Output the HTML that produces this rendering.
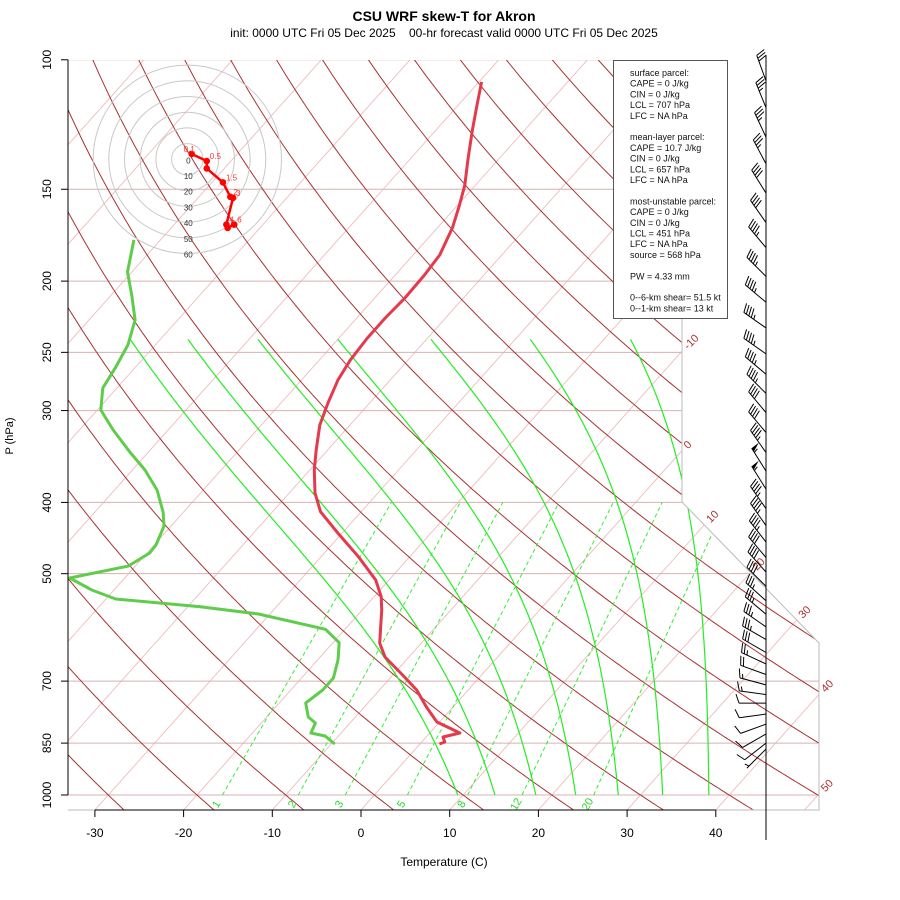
<!DOCTYPE html>
<html><head><meta charset="utf-8"><title>CSU WRF skew-T for Akron</title>
<style>
html,body{margin:0;padding:0;background:#fff;}
#wrap{position:relative;width:900px;height:900px;overflow:hidden;font-family:"Liberation Sans",Arial,sans-serif;}
svg text{font-family:"Liberation Sans",Arial,sans-serif;}
</style></head>
<body>
<div id="wrap">
<svg id="svg" width="900" height="900" viewBox="0 0 900 900" xmlns="http://www.w3.org/2000/svg">
<defs><clipPath id="plotclip"><path d="M68,60 L682,60 L682,502 L819,643 L819,810 L68,810 Z"/></clipPath></defs>
<text x="444" y="21" text-anchor="middle" font-size="14" font-weight="bold">CSU WRF skew-T for Akron</text>
<text x="444" y="37" text-anchor="middle" font-size="12" xml:space="preserve">init: 0000 UTC Fri 05 Dec 2025    00-hr forecast valid 0000 UTC Fri 05 Dec 2025</text>
<g id="grid" clip-path="url(#plotclip)"></g>
<g id="profiles"></g>
<g id="axes"></g>
<g id="hodo"></g>
<g id="barbs"></g>
<g id="info"></g>
</svg>
</div>
<script>
// ---- data ----
const P_TEMP=[107.2,115.2,124.6,136.8,148.1,157.6,169.3,184.3,196.2,210.8,224.5,239,256.1,272.5,292.9,313.9,339.4,361.3,388.4,411.8,440.2,474.1,510,537.4,560.2,621.3,649.1,686.7,719.8,759.1,795.7,823.5,833.9,847,852.4];
const TEMP=[-59.7,-57.9,-55.9,-53.4,-51.2,-49.8,-48.3,-47.0,-46.7,-46.6,-46.8,-46.8,-46.5,-45.9,-44.7,-43.4,-41.3,-39.5,-37.1,-34.6,-30.5,-25.8,-21.5,-19.2,-17.8,-14.7,-12.7,-8.9,-5.8,-3.0,-0.3,3.4,1.9,2.6,2.2];
const P_DEW=[175.8,194.3,208.9,225.9,244.3,262.6,279.5,299.5,318.8,341.6,361.3,384.8,412.3,430.6,457,468.6,488.2,506.8,526.2,541.3,554.5,567.3,595.1,620.7,655.2,693.2,719.8,749.7,783.3,798.1,823.5,831.3,852.4];
const DEWPT=[-83.0,-80.5,-77.7,-74.8,-73.1,-72.2,-71.6,-69.6,-66.2,-62.1,-58.6,-55.2,-52.3,-50.8,-49.8,-49.7,-50.8,-56.2,-52.5,-48.9,-38.6,-31.3,-22.2,-19.3,-17.7,-16.4,-16.4,-17.0,-15.3,-13.9,-13.4,-11.5,-9.6];
const P_LEVELS=[100,150,200,250,300,400,500,700,850,1000];
const T_TICKS=[-30,-20,-10,0,10,20,30,40];
const ISO_LABELS=[-10,0,10,20,30,40,50];
const MOIST_T1000=[9.4,13.6,18.2,22.7,27.5,32.5,37.7];
const MOIST_T240=[-73.4,-66.9,-59.0,-50.0,-39.5,-28.3,-17.0];
const MIX_RATIOS=[1,2,3,5,8,12,20];
const HODO_U=[2.8,12.4,12.4,22.7,27.4,29.1,24.9,25.7,29.9];
const HODO_V=[3.4,-1.1,-5.8,-14.7,-23.9,-24.5,-41.6,-43.7,-41.6];
const HODO_LABELS=["0.1","0.5","","1.5","2","3","4","5","6"];
const BARB_P=[106.8,116.2,127.4,138.5,151.8,166.5,180.1,197.1,213.7,231.6,251.2,267.7,284.3,301.9,321.4,342.2,362.6,383.7,407.8,430.1,452.9,475.4,497.4,520.3,544.3,567.7,590.7,614.5,640,663.4,685.7,708.3,730.2,750,776,801,826,850,866];
const BARB_DIR=[340,338,335,332,328,325,320,315,310,305,305,310,315,320,320,325,328,328,325,325,322,320,318,315,312,310,305,300,300,295,290,285,278,270,262,250,240,232,225];
const BARB_SPD=[30,35,35,35,40,40,45,45,45,45,45,45,45,40,40,45,55,55,45,45,45,40,40,40,35,35,35,35,30,25,20,15,15,10,10,10,10,10,5];
const INFO_LINES=["surface parcel:","CAPE = 0 J/kg","CIN = 0 J/kg","LCL = 707 hPa","LFC = NA hPa","","mean-layer parcel:","CAPE = 10.7 J/kg","CIN = 0 J/kg","LCL = 657 hPa","LFC = NA hPa","","most-unstable parcel:","CAPE = 0 J/kg","CIN = 0 J/kg","LCL = 451 hPa","LFC = NA hPa","source = 568 hPa","","PW =  4.33 mm","","0--6-km shear= 51.5 kt","0--1-km shear= 13 kt"];

// ---- axis functions ----
const NS="http://www.w3.org/2000/svg";
function yP(p){return 795-319.3*Math.log(1000/p);}
function xT(T,p){return 361+8.87*T+(810-yP(p))*0.893;}
function mk(tag,attrs,parent){const e=document.createElementNS(NS,tag);for(const k in attrs)e.setAttribute(k,attrs[k]);parent.appendChild(e);return e;}
const grid=document.getElementById('grid'),prof=document.getElementById('profiles'),axes=document.getElementById('axes'),hodo=document.getElementById('hodo'),barbs=document.getElementById('barbs'),info=document.getElementById('info');

// isotherms
for(let T=-160;T<=60;T+=10){
  const l=mk('line',{x1:xT(T,1060),y1:yP(1060),x2:xT(T,95),y2:yP(95),stroke:'#eebcbc','stroke-width':0.9},grid);
  
  
}
// pressure lines
P_LEVELS.forEach(p=>{
  const l=mk('line',{x1:68,y1:yP(p),x2:830,y2:yP(p),stroke:'#d9b0b0','stroke-width':1},grid);
  
  
});
// dry adiabats
for(let th=-50;th<=220;th+=10){
  let d='';
  for(let p=1060;p>=95;p-=5){const T=(th+273.15)*Math.pow(p/1000,0.2857)-273.15;d+=(d?'L':'M')+xT(T,p).toFixed(1)+','+yP(p).toFixed(1);}
  const e=mk('path',{d:d,fill:'none',stroke:'#a83232','stroke-width':1},grid);
  
  
}
// moist adiabats (curve shape from physics, scaled to pass through read top value)
function esat(T){return 6.112*Math.exp(17.67*(T-273.15)/(T-29.65));}
function moistCurve(t0,f){
  let T=t0+273.15;const pts=[];
  for(let p=1000;p>=240;p-=2){
    pts.push([p,T-273.15]);
    const es=esat(T),r=f*0.622*es/(p-es);
    const dTdp=(287*T+2.5e6*r)/(p*(1004+2.5e6*2.5e6*r*0.622/(287*T*T)));
    T-=2*dTdp;
  }
  return pts;
}
MOIST_T1000.forEach((t0,i)=>{
  let lo=0,hi=3,pts=null;
  for(let k=0;k<30;k++){
    const f=(lo+hi)/2;pts=moistCurve(t0,f);
    if(pts[pts.length-1][1]>MOIST_T240[i])hi=f;else lo=f;
  }
  const d=pts.map((q,j)=>(j?'L':'M')+xT(q[1],q[0]).toFixed(1)+','+yP(q[0]).toFixed(1)).join('');
  const e=mk('path',{d:d,fill:'none',stroke:'#22ee22','stroke-width':1.2},grid);
  
  
});
// mixing ratio lines
function tdFromW(w,p){const e=w*p/(622+w);const a=Math.log(e/6.112);return 243.5*a/(17.67-a);}
MIX_RATIOS.forEach(w=>{
  const e=mk('line',{x1:xT(tdFromW(w,1000),1000),y1:yP(1000),x2:xT(tdFromW(w,400),400),y2:yP(400),stroke:'#33ee33','stroke-width':1,'stroke-dasharray':'4,3'},grid);
  
  
  const x=xT(tdFromW(w,1000),1000)-3,y=806;
  const t=mk('text',{x:x,y:y,'font-size':11,fill:'#22dd22','text-anchor':'middle',transform:'rotate(-60 '+x+' '+y+')'},axes);
  t.textContent=w;
  
  
});
// boundary edges
const bnd=mk('path',{d:'M682,60 L682,502 L819,643 L819,810 L68,810',fill:'none',stroke:'#bbbbbb','stroke-width':1},axes);


// isotherm labels
ISO_LABELS.forEach(T=>{
  let lx=null,ly=null;
  for(let y=810;y>=60;y-=0.5){
    const x=361+8.87*T+(810-y)*0.893;
    const ex= y<=502?682:(y<=643?682+(y-502)*137/141:819);
    if(x>=ex){lx=x;ly=y;break;}
  }
  if(lx===null)return;
  const tx=lx+6,ty=ly-1;
  const t=mk('text',{x:tx,y:ty,'font-size':11,fill:'#b03030','text-anchor':'start',transform:'rotate(-45 '+tx+' '+ty+')'},axes);
  t.textContent=T;
  
  
});
// profiles
function profPath(P,V){return P.map((p,i)=>(i?'L':'M')+xT(V[i],p).toFixed(1)+','+yP(p).toFixed(1)).join('');}
const tp=mk('path',{d:profPath(P_TEMP,TEMP),fill:'none',stroke:'#e33a4c','stroke-width':3,'stroke-linejoin':'round'},prof);


const dp=mk('path',{d:profPath(P_DEW,DEWPT),fill:'none',stroke:'#5fcc4c','stroke-width':3,'stroke-linejoin':'round'},prof);


// axes
const ya=mk('line',{x1:68,y1:yP(100),x2:68,y2:yP(1000),stroke:'#000','stroke-width':1},axes);


P_LEVELS.forEach(p=>{
  const y=yP(p);
  const tk=mk('line',{x1:61,y1:y,x2:68,y2:y,stroke:'#000'},axes);
  
  
  const t=mk('text',{x:51,y:y,'font-size':12,'text-anchor':'middle',transform:'rotate(-90 51 '+y+')'},axes);
  t.textContent=p;
  
  
});
const yt=mk('text',{x:13,y:436,'font-size':11,'text-anchor':'middle',transform:'rotate(-90 13 436)'},axes);
yt.textContent='P (hPa)';


const xa=mk('line',{x1:361-8.87*30,y1:810,x2:361+8.87*40,y2:810,stroke:'#000'},axes);


T_TICKS.forEach(T=>{
  const x=361+8.87*T;
  const tk=mk('line',{x1:x,y1:810,x2:x,y2:817,stroke:'#000'},axes);
  
  
  const t=mk('text',{x:x,y:837,'font-size':12,'text-anchor':'middle'},axes);
  t.textContent=T;
  
  
});
const xt=mk('text',{x:444,y:866,'font-size':12,'text-anchor':'middle'},axes);
xt.textContent='Temperature (C)';


// barb staff line
const sl=mk('line',{x1:766,y1:55,x2:766,y2:840,stroke:'#000','stroke-width':1},barbs);


// hodograph
const HC={x:187.3,y:159.3,k:1.57};
for(let r=10;r<=60;r+=10){
  const c=mk('circle',{cx:HC.x,cy:HC.y,r:r*HC.k,fill:'none',stroke:'#c8c8c8','stroke-width':1},hodo);
  
  
}
for(let r=0;r<=60;r+=10){
  const t=mk('text',{x:HC.x+1,y:HC.y+r*HC.k+4,'font-size':8,fill:'#333','text-anchor':'middle'},hodo);
  t.textContent=r;
  
  
}
const hx=i=>HC.x+HODO_U[i]*HC.k, hy=i=>HC.y-HODO_V[i]*HC.k;
const hp=mk('path',{d:HODO_U.map((u,i)=>(i?'L':'M')+hx(i).toFixed(1)+','+hy(i).toFixed(1)).join(''),fill:'none',stroke:'#ff0000','stroke-width':2.5},hodo);


HODO_U.forEach((u,i)=>{
  const c=mk('circle',{cx:hx(i),cy:hy(i),r:3.3,fill:'#ff0000'},hodo);
  
  
  if(HODO_LABELS[i]){
    const t=mk('text',{x:hx(i)+(i===0?-8:3),y:hy(i)-2,'font-size':8,fill:'#ff3030'},hodo);
    t.textContent=HODO_LABELS[i];
    
    
  }
});
// wind barbs
BARB_P.forEach((p,i)=>{
  const y=yP(p),x0=766,d=BARB_DIR[i]*Math.PI/180;
  const sx=Math.sin(d),sy=-Math.cos(d),L=27;
  const g=mk('g',{},barbs);
  
  
  const tx=x0+L*sx,ty=y+L*sy;
  mk('line',{x1:x0,y1:y,x2:tx,y2:ty,stroke:'#000','stroke-width':1},g);
  const px=-sy,py=sx;
  let spd=Math.round(BARB_SPD[i]/5)*5,pos=0;
  while(spd>=50){
    const bx=tx-sx*pos,by=ty-sy*pos;
    mk('path',{d:`M${bx},${by}L${bx+px*9+sx*1},${by+py*9+sy*1}L${bx-sx*4},${by-sy*4}Z`,fill:'#000'},g);
    pos+=5;spd-=50;
  }
  while(spd>=10){
    const bx=tx-sx*pos,by=ty-sy*pos;
    mk('line',{x1:bx,y1:by,x2:bx+px*9+sx*3,y2:by+py*9+sy*3,stroke:'#000','stroke-width':1},g);
    pos+=3;spd-=10;
  }
  if(spd>=5){
    if(pos===0)pos=3;
    const bx=tx-sx*pos,by=ty-sy*pos;
    mk('line',{x1:bx,y1:by,x2:bx+px*4.5+sx*1.5,y2:by+py*4.5+sy*1.5,stroke:'#000','stroke-width':1},g);
  }
});
// info box
const rb=mk('rect',{x:613.5,y:60.5,width:114,height:258,fill:'#fff',stroke:'#555','stroke-width':1},info);


INFO_LINES.forEach((s,i)=>{
  if(!s)return;
  const t=mk('text',{x:630,y:76+i*10.7,'font-size':9,fill:'#111'},info);
  t.setAttribute('xml:space','preserve');
  t.textContent=s;
  
  
});
</script>
</body></html>
